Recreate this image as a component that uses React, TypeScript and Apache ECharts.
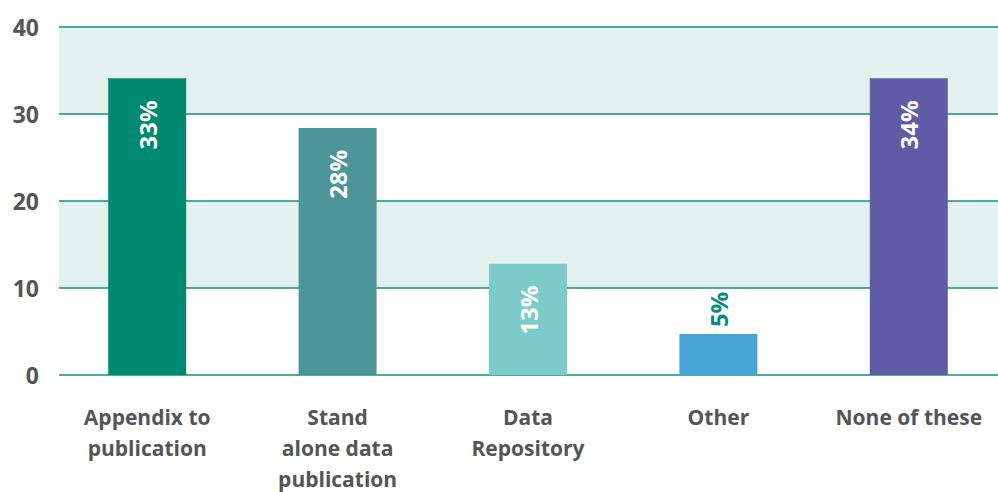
import React, { useEffect, useRef } from "react";
import * as echarts from "echarts";

const categories = [
  "Appendix to\npublication",
  "Stand\nalone data\npublication",
  "Data\nRepository",
  "Other",
  "None of these",
];
const values = [34.1, 28.4, 12.8, 4.7, 34.1];
const labels = ["33%", "28%", "13%", "5%", "34%"];
const colors = ["#008870", "#4e9599", "#7ccbc9", "#48a3d6", "#5f5ba5"];
const yTicks = { min: 0, max: 40, interval: 10 };

const FONT = "'Open Sans', Lato, sans-serif";

export default function App() {
  const ref = useRef<HTMLDivElement>(null);
  useEffect(() => {
    if (!ref.current) return;
    const chart = echarts.init(ref.current, null, { renderer: "svg" });
    chart.setOption({
      animation: false,
      grid: [
        { left: 52, top: 27, width: 952, bottom: 117, outerBoundsMode: "none", containLabel: false },
        { left: 59, top: 27, right: 0, bottom: 117, outerBoundsMode: "none", containLabel: false },
      ],
      xAxis: [
        {
          type: "category",
          gridIndex: 0,
          data: categories,
          axisLine: { show: false },
          axisTick: { show: false },
          axisLabel: {
            margin: 26,
            color: "#555555",
            fontFamily: FONT,
            fontWeight: "bold",
            fontSize: 21,
            lineHeight: 31,
            interval: 0,
          },
        },
        { type: "value", gridIndex: 1, min: 0, max: 1, show: false },
      ],
      yAxis: [
        { type: "value", gridIndex: 0, ...yTicks, show: false },
        {
          type: "value",
          gridIndex: 1,
          ...yTicks,
          axisLine: { show: false },
          axisTick: { show: false },
          axisLabel: {
            margin: 20,
            color: "#555555",
            fontFamily: FONT,
            fontWeight: "bold",
            fontSize: 23,
          },
          splitLine: { show: true, lineStyle: { color: "#12907e", width: 1.5 } },
          splitArea: { show: true, areaStyle: { color: ["rgba(0,0,0,0)", "#e3f2ef"] } },
        },
      ],
      series: [
        {
          type: "bar",
          xAxisIndex: 0,
          yAxisIndex: 0,
          barWidth: 78,
          z: 5,
          data: values.map((v, i) => {
            const outside = v < 8;
            return {
              value: v,
              itemStyle: { color: colors[i] },
              label: {
                show: true,
                formatter: labels[i],
                position: outside ? "top" : "insideTop",
                distance: outside ? 7 : 22,
                rotate: 90,
                align: outside ? "left" : "right",
                verticalAlign: "middle",
                color: outside ? "#0a8a78" : "#ffffff",
                fontFamily: FONT,
                fontWeight: "bold",
                fontSize: 24,
              },
            };
          }),
        },
      ],
    });
    return () => chart.dispose();
  }, []);
  return (
    <div
      ref={ref}
      style={{ position: "absolute", left: 0, top: 0, width: 998, height: 492 }}
    />
  );
}
